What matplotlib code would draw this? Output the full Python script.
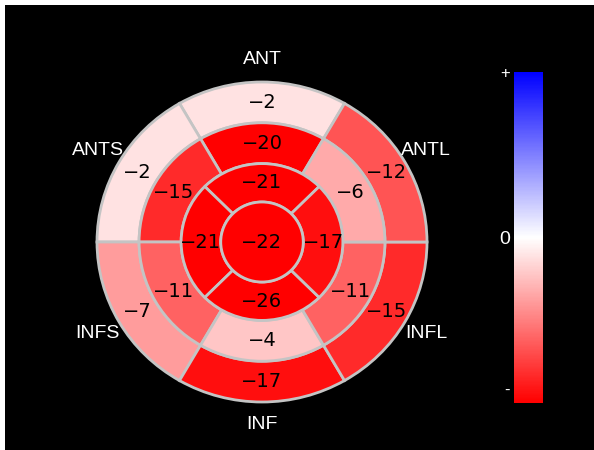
import numpy as np
import matplotlib
matplotlib.use("Agg")
import matplotlib.pyplot as plt
from matplotlib.patches import Wedge, Circle, Rectangle
from matplotlib.colors import Normalize
from matplotlib.cm import ScalarMappable

# segment values, counterclockwise starting at the top (anterior)
basal_values = [-2, -2, -7, -17, -15, -12]
mid_values = [-20, -15, -11, -4, -11, -6]
apical_values = [-21, -21, -26, -17]   # top, septal, inferior, lateral
apex_value = -22
wall_names = ["ANT", "ANTS", "INFS", "INF", "INFL", "ANTL"]

cmap = plt.get_cmap("bwr_r")
norm = Normalize(vmin=-18, vmax=18)
edge = "#c4c4c4"
num_font = ["DejaVu Sans Condensed", "Liberation Sans Narrow", "DejaVu Sans"]

W, H = 594, 450
fig = plt.figure(figsize=(W / 100, H / 100), dpi=100, facecolor="white")
# black panel
fig.patches.append(Rectangle((5 / W, 0), 1, (H - 5) / H, transform=fig.transFigure,
                             facecolor="black", edgecolor="none", zorder=-10))

# bullseye axes (pixel box of the outer circle)
left, right, top, bottom = 97, 427, 82, 402
ax = fig.add_axes([left / W, (H - bottom) / H, (right - left) / W, (bottom - top) / H])
ax.set_xlim(-1, 1)
ax.set_ylim(-1, 1)
ax.axis("off")

radii = [1.0, 0.745, 0.49, 0.25]

def ring(values, r_out, r_in, start):
    n = len(values)
    step = 360 / n
    for i, v in enumerate(values):
        a0 = start + i * step
        ax.add_patch(Wedge((0, 0), r_out, a0, a0 + step, width=r_out - r_in,
                           facecolor=cmap(norm(v)), edgecolor=edge, lw=2, clip_on=False))
        mid = np.deg2rad(a0 + step / 2)
        rm = (r_out + r_in) / 2
        ax.text(rm * np.cos(mid), rm * np.sin(mid), "\u2212%d" % abs(v),
                ha="center", va="center", fontsize=14, family=num_font, color="black")

ring(basal_values, radii[0], radii[1], 60)
ring(mid_values, radii[1], radii[2], 60)
ring(apical_values, radii[2], radii[3], 45)
ax.add_patch(Circle((0, 0), radii[3], facecolor=cmap(norm(apex_value)), edgecolor=edge, lw=2))
ax.text(0, 0, "\u2212%d" % abs(apex_value), ha="center", va="center",
        fontsize=14, family=num_font, color="black")

for i, name in enumerate(wall_names):
    ang = np.deg2rad(90 + 60 * i)
    ax.text(1.15 * np.cos(ang), 1.14 * np.sin(ang), name, ha="center", va="center",
            fontsize=14, color="white", family="Liberation Sans", clip_on=False)

# colour bar
cax = fig.add_axes([514 / W, (H - 403) / H, 29 / W, 331 / H])
cb = fig.colorbar(ScalarMappable(norm=norm, cmap=cmap), cax=cax)
cb.outline.set_visible(False)
cb.set_ticks([-16.5, 0, 18])
cb.set_ticklabels(["-", "0", "+"])
cax.yaxis.set_ticks_position("left")
cax.tick_params(length=0, colors="white", labelsize=12, pad=3)
for lab, size in zip(cax.get_yticklabels(), [12, 14, 12]):
    lab.set_color("white")
    lab.set_family("Liberation Sans")
    lab.set_fontsize(size)

fig.savefig("out.png", dpi=100, facecolor=fig.get_facecolor())
